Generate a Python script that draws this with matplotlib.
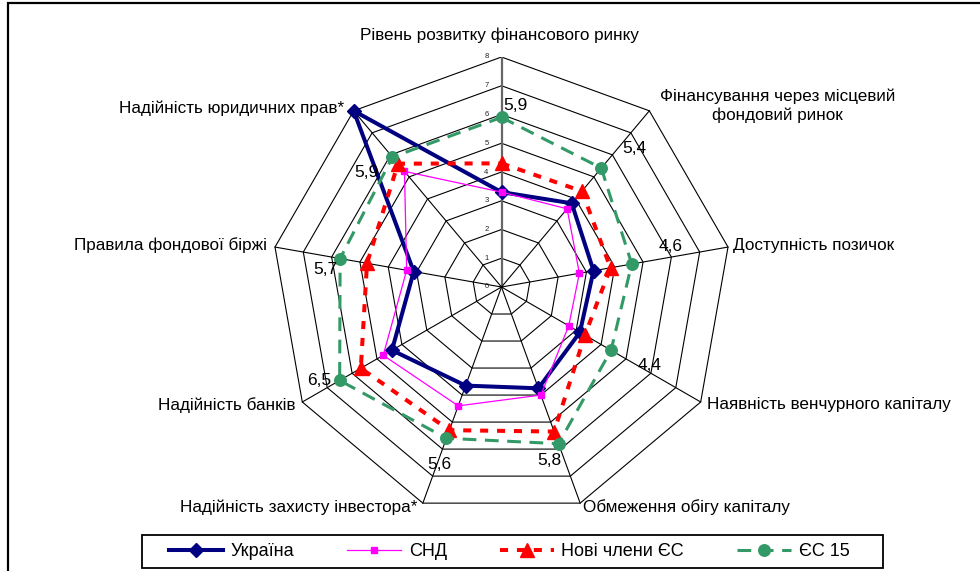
import numpy as np
import matplotlib
matplotlib.use("Agg")
import matplotlib.pyplot as plt
from matplotlib.patches import Rectangle

plt.rcParams['font.family'] = ['Liberation Sans', 'DejaVu Sans']

# ---------------- data ----------------
categories = [
    "Рівень розвитку фінансового ринку",
    "Фінансування через місцевий\nфондовий ринок",
    "Доступність позичок",
    "Наявність венчурного капіталу",
    "Обмеження обігу капіталу",
    "Надійність захисту інвестора*",
    "Надійність банків",
    "Правила фондової біржі",
    "Надійність юридичних прав*",
]
series_names = ["Україна", "СНД", "Нові члени ЄС", "ЄС 15"]
ukraine = [3.3, 3.8, 3.25, 3.15, 3.75, 3.65, 4.4, 3.1, 8.0]
cis = [3.3, 3.55, 2.75, 2.7, 4.0, 4.4, 4.75, 3.35, 5.25]
new_eu = [4.3, 4.35, 3.85, 3.35, 5.35, 5.3, 5.65, 4.75, 5.6]
eu15 = [5.9, 5.4, 4.6, 4.4, 5.8, 5.6, 6.5, 5.7, 5.9]
eu15_labels = ["5,9", "5,4", "4,6", "4,4", "5,8", "5,6", "6,5", "5,7", "5,9"]
ticks = [0, 1, 2, 3, 4, 5, 6, 7, 8]

# ---------------- layout ----------------
W, H = 980, 571
cx, cy, R = 501.5, 287.0, 230.0
rmax = 8

fig = plt.figure(figsize=(W / 100, H / 100), dpi=100)
ax = fig.add_axes([(cx - R) / W, (H - cy - R) / H, 2 * R / W, 2 * R / H])
ax.set_xlim(-rmax, rmax)
ax.set_ylim(-rmax, rmax)
ax.set_aspect('equal')
ax.axis('off')

n = len(categories)
theta = 2 * np.pi * np.arange(n) / n


def xy(vals):
    v = np.asarray(vals, dtype=float)
    return v * np.sin(theta), v * np.cos(theta)


# grid rings
for t in ticks[1:]:
    gx, gy = xy([t] * n)
    ax.plot(np.r_[gx, gx[0]], np.r_[gy, gy[0]], color='black', lw=0.8, zorder=1)
# spokes
for k in range(n):
    col, lw = ('#666666', 1.6) if k == 0 else ('black', 0.8)
    ax.plot([0, rmax * np.sin(theta[k])], [0, rmax * np.cos(theta[k])],
            color=col, lw=lw, zorder=1.5)
# value tick labels
for t in ticks:
    ax.annotate(str(t), (0, t), xytext=(-13, 0), textcoords='offset pixels',
                ha='right', va='center', fontsize=5.5, color='#222222')

# series
styles = [
    dict(color='#000080', lw=2.9, marker='D', ms=7.0, linestyle='-'),
    dict(color='#FF00FF', lw=0.9, marker='s', ms=5.0, linestyle='-'),
    dict(color='#FF0000', lw=2.9, marker='^', ms=9.5, linestyle=(0, (2, 2.2))),
    dict(color='#339966', lw=2.2, marker='o', ms=8.3, linestyle=(0, (4.5, 2.8))),
]
handles = []
for vals, name, st in zip([ukraine, cis, new_eu, eu15], series_names, styles):
    px, py = xy(vals)
    h, = ax.plot(np.r_[px, px[0]], np.r_[py, py[0]], color=st['color'], lw=st['lw'],
                 linestyle=st['linestyle'], marker=st['marker'], markersize=st['ms'],
                 markevery=list(range(n)), markerfacecolor=st['color'],
                 markeredgecolor=st['color'], clip_on=False, zorder=3,
                 dash_capstyle='butt', label=name)
    handles.append(h)

# data labels for EU15
lab_off = [(14, 12), (33, 20), (39, 18), (39, -15), (-9, -17), (-7, -26), (-20, 0), (-15, -11), (-26, -15)]
ex, ey = xy(eu15)
for k in range(n):
    ax.annotate(eu15_labels[k], (ex[k], ey[k]), xytext=lab_off[k], textcoords='offset pixels',
                ha='center', va='center', fontsize=12.5, color='black', zorder=5)

# category labels
cat_off = [(-2, 22, 'center'), (128, 5, 'center'), (5, 2, 'left'), (6, -3, 'left'),
           (3, -4, 'left'), (-5, -4, 'right'), (-7, -3, 'right'), (-8, 2, 'right'),
           (-10, 3, 'right')]
for k in range(n):
    dx, dy, ha = cat_off[k]
    ax.annotate(categories[k], (rmax * np.sin(theta[k]), rmax * np.cos(theta[k])),
                xytext=(dx, dy), textcoords='offset pixels', ha=ha, va='center',
                fontsize=12.3, linespacing=1.3, annotation_clip=False)

# chart frame
fig.patches.append(Rectangle((8 / W, -0.1), 1.2, (H - 3) / H + 0.1, transform=fig.transFigure,
                             fill=False, edgecolor='black', lw=1.6))

# legend box (frame drawn separately) and entries
fig.patches.append(Rectangle((142 / W, 1 - 568 / H), (883 - 142) / W, 33 / H,
                             transform=fig.transFigure, fill=True, facecolor='white',
                             edgecolor='black', lw=1.3, zorder=4))
leg = fig.legend(handles, series_names, loc='center left',
                 bbox_to_anchor=(169 / W, 1 - 551.5 / H), ncol=4, frameon=False,
                 fontsize=13, handlelength=3.0, handletextpad=0.4, columnspacing=2.95,
                 borderpad=0.0, borderaxespad=0.0)
leg.set_zorder(5)

fig.savefig('out.png', dpi=100)
